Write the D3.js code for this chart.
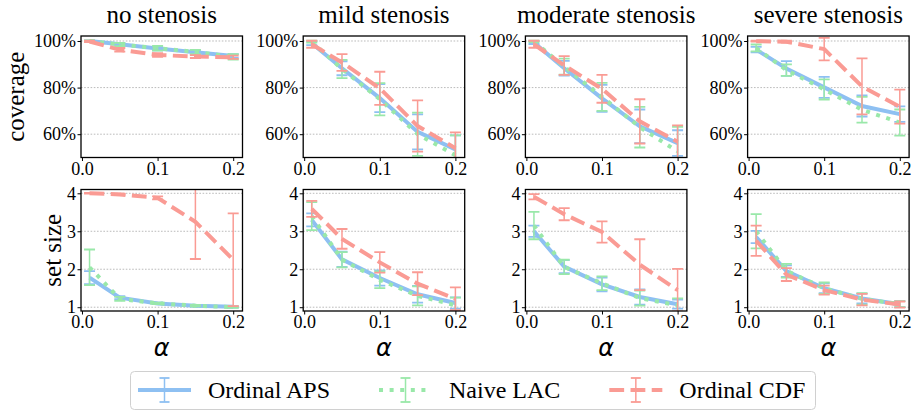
<!DOCTYPE html>
<html>
<head>
<meta charset="utf-8">
<script src="https://cdn.jsdelivr.net/npm/d3@7"></script>
<style>
  body { margin: 0; background: #fff; }
  svg text { font-family: "Liberation Serif", "Times New Roman", serif; fill: #000; }
</style>
</head>
<body>
<div id="chart"></div>
<script>
/**------------------------------------------------------------------------
 *                           DATA
 *------------------------------------------------------------------------**/
const alphas = [0.01, 0.05, 0.1, 0.15, 0.2]
const panels = ['no stenosis', 'mild stenosis', 'moderate stenosis', 'severe stenosis']
const methods = ['Ordinal APS', 'Naive LAC', 'Ordinal CDF']
const xTicks = [0.0, 0.1, 0.2]
const coverageTicks = [60, 80, 100]
const sizeTicks = [1, 2, 3, 4]

// coverage (%), one row per panel
const apsCoverage = [
    [100, 98.6, 96.8, 95.2, 93.6],
    [99, 88.3, 75.5, 61, 53.5],
    [99.3, 88.3, 75.4, 63.4, 56.2],
    [96.3, 88.2, 80.1, 72.1, 68.6]
]
const apsCoverageErr = [
    [0.3, 0.6, 0.8, 0.8, 0.8],
    [0.8, 3, 6, 7.5, 6],
    [0.6, 3.2, 5.8, 7.2, 5.5],
    [1.2, 3.2, 4.5, 4.5, 3.3]
]
const lacCoverage = [
    [100, 98.5, 96.9, 95.3, 93.2],
    [99.7, 88, 75, 60, 51],
    [99.8, 89, 76, 63, 52.6],
    [97, 87.5, 79.2, 70.5, 65]
]
const lacCoverageErr = [
    [0.2, 0.7, 1, 0.9, 1.2],
    [0.4, 3.9, 6.9, 9.3, 8.5],
    [0.3, 3.4, 6, 8.7, 10.5],
    [1.5, 2.5, 4.3, 5.5, 5.6]
]
const cdfCoverage = [
    [99.8, 96.2, 94, 93.3, 93],
    [98.6, 90.8, 79.7, 63.5, 54],
    [98.6, 89.5, 79.5, 65.5, 56.8],
    [99.9, 99.7, 96.5, 80.5, 71.8]
]
const cdfCoverageErr = [
    [0.3, 0.8, 0.8, 0.6, 0.7],
    [1.5, 3.6, 7.1, 11, 6.8],
    [1.5, 4, 6, 9.5, 7],
    [0.2, 0.4, 4.8, 12, 7.3]
]

// set size, one row per panel
const apsSize = [
    [1.78, 1.25, 1.1, 1.04, 1.01],
    [3.3, 2.26, 1.77, 1.34, 1.11],
    [3.0, 2.07, 1.6, 1.27, 1.08],
    [2.85, 1.95, 1.5, 1.23, 1.08]
]
const apsSizeErr = [
    [0.17, 0.04, 0.02, 0.02, 0.02],
    [0.17, 0.2, 0.2, 0.22, 0.15],
    [0.15, 0.17, 0.18, 0.2, 0.12],
    [0.16, 0.15, 0.13, 0.13, 0.08]
]
const lacSize = [
    [2.05, 1.22, 1.1, 1.04, 1.0],
    [3.4, 2.25, 1.72, 1.3, 1.05],
    [3.15, 2.06, 1.63, 1.24, 1.05],
    [3.0, 1.96, 1.5, 1.22, 1.08]
]
const lacSizeErr = [
    [0.47, 0.05, 0.02, 0.02, 0.02],
    [0.37, 0.2, 0.22, 0.25, 0.2],
    [0.36, 0.19, 0.18, 0.2, 0.18],
    [0.45, 0.18, 0.15, 0.15, 0.08]
]
const cdfSize = [
    [4.0, 3.97, 3.88, 3.25, 2.25],
    [3.59, 2.8, 2.18, 1.62, 1.22],
    [3.91, 3.45, 2.98, 2.12, 1.45],
    [2.75, 1.86, 1.45, 1.2, 1.07]
]
const cdfSizeErr = [
    [0.01, 0.02, 0.04, 0.98, 1.22],
    [0.21, 0.26, 0.27, 0.3, 0.3],
    [0.07, 0.16, 0.28, 0.67, 0.56],
    [0.4, 0.17, 0.12, 0.15, 0.08]
]

/**------------------------------------------------------------------------
 *                           STYLE / LAYOUT
 *------------------------------------------------------------------------**/
const colors = ['#8ec0f2', '#99e8a9', '#fa9b94']
const dashes = [null, '4,6.6', '14.8,6.4']
const lineWidth = 4

const width = 913, height = 412
const panel = { left: 81, step: 222.2, width: 161.5, height: 121.5 }
const rowTop = [36, 189.5]

const svg = d3.select('#chart')
    .append('svg')
    .attr('width', width)
    .attr('height', height)

const xScale = d3.scaleLinear().domain([-0.0013, 0.2123]).range([0, panel.width])

const rows = [
    {
        label: 'coverage', labelX: 24,
        domain: [50, 102.14], ticks: coverageTicks, fmt: d => d + '%',
        means: [apsCoverage, lacCoverage, cdfCoverage],
        errs: [apsCoverageErr, lacCoverageErr, cdfCoverageErr]
    },
    {
        label: 'set size', labelX: 61,
        domain: [0.9, 4.1], ticks: sizeTicks, fmt: d3.format('d'),
        means: [apsSize, lacSize, cdfSize],
        errs: [apsSizeErr, lacSizeErr, cdfSizeErr]
    }
]

/**------------------------------------------------------------------------
 *                           PANELS
 *------------------------------------------------------------------------**/
rows.forEach((row, r) => {
    const yScale = d3.scaleLinear().domain(row.domain).range([panel.height, 0])

    panels.forEach((name, p) => {
        const px = panel.left + p * panel.step
        const g = svg.append('g').attr('transform', 'translate(' + px + ',' + rowTop[r] + ')')
        const clipId = 'clip-' + r + '-' + p

        g.append('clipPath').attr('id', clipId)
            .append('rect')
            .attr('width', panel.width)
            .attr('height', panel.height)

        // horizontal grid
        g.append('g').selectAll('line')
            .data(row.ticks)
            .join('line')
            .attr('x1', 0).attr('x2', panel.width)
            .attr('y1', d => yScale(d)).attr('y2', d => yScale(d))
            .attr('stroke', '#aaaaaa')
            .attr('stroke-width', 0.8)
            .attr('stroke-dasharray', '1.6,1.6')

        // series: line + error bars
        const plot = g.append('g').attr('clip-path', 'url(#' + clipId + ')')
        methods.forEach((m, k) => {
            const means = row.means[k][p]
            const errs = row.errs[k][p]
            const pts = alphas.map((a, i) => ({ a: a, v: means[i], e: errs[i] }))

            const line = d3.line().x(d => xScale(d.a)).y(d => yScale(d.v))
            plot.append('path')
                .datum(pts)
                .attr('d', line)
                .attr('fill', 'none')
                .attr('stroke', colors[k])
                .attr('stroke-width', lineWidth)
                .attr('stroke-dasharray', dashes[k])

            const bars = plot.append('g')
                .attr('stroke', colors[k])
                .selectAll('g')
                .data(pts)
                .join('g')
            bars.append('line')
                .attr('x1', d => xScale(d.a)).attr('x2', d => xScale(d.a))
                .attr('y1', d => yScale(d.v - d.e)).attr('y2', d => yScale(d.v + d.e))
                .attr('stroke-width', 1.5)
            bars.selectAll('.cap')
                .data(d => [[d.a, d.v - d.e], [d.a, d.v + d.e]])
                .join('line')
                .attr('class', 'cap')
                .attr('x1', d => xScale(d[0]) - 5.5).attr('x2', d => xScale(d[0]) + 5.5)
                .attr('y1', d => yScale(d[1])).attr('y2', d => yScale(d[1]))
                .attr('stroke-width', 1.8)
        })

        // axes
        const xAxis = g.append('g')
            .attr('transform', 'translate(0,' + panel.height + ')')
            .call(d3.axisBottom(xScale).tickValues(xTicks).tickFormat(d3.format('.1f'))
                .tickSize(3.5).tickPadding(1))
        const yAxis = g.append('g')
            .call(d3.axisLeft(yScale).tickValues(row.ticks).tickFormat(row.fmt)
                .tickSize(3.5).tickPadding(1.5))
        ;[xAxis, yAxis].forEach(ax => {
            ax.attr('font-family', null).attr('font-size', 18)
            ax.select('.domain').remove()
            ax.selectAll('.tick line').attr('stroke', '#000').attr('stroke-width', 1)
        })

        // frame
        g.append('rect')
            .attr('width', panel.width)
            .attr('height', panel.height)
            .attr('fill', 'none')
            .attr('stroke', '#000')
            .attr('stroke-width', 1.3)

        if (r == 0) {
            g.append('text')
                .attr('x', panel.width / 2)
                .attr('y', 23 - rowTop[0])
                .attr('text-anchor', 'middle')
                .attr('font-size', 25)
                .text(name)
        } else {
            // alpha label
            g.append('text')
                .attr('x', panel.width / 2)
                .attr('y', 356 - rowTop[1])
                .attr('text-anchor', 'middle')
                .attr('font-size', 24)
                .style('font-family', '"DejaVu Sans", sans-serif')
                .style('font-style', 'italic')
                .text('α')
        }
    })

    // row label
    svg.append('text')
        .attr('transform', 'translate(' + row.labelX + ',' + (rowTop[r] + panel.height / 2) + ') rotate(-90)')
        .attr('text-anchor', 'middle')
        .attr('font-size', 25)
        .text(row.label)
})

/**------------------------------------------------------------------------
 *                           LEGEND
 *------------------------------------------------------------------------**/
const legend = svg.append('g')
legend.append('rect')
    .attr('x', 130.5).attr('y', 371.5)
    .attr('width', 685).attr('height', 38)
    .attr('rx', 4)
    .attr('fill', '#fff')
    .attr('stroke', '#d0d0d0')
    .attr('stroke-width', 1)

let lx = 138
const ly = 390
methods.forEach((m, k) => {
    const item = legend.append('g')
    item.append('line')
        .attr('x1', lx).attr('x2', lx + 53)
        .attr('y1', ly).attr('y2', ly)
        .attr('stroke', colors[k])
        .attr('stroke-width', lineWidth)
        .attr('stroke-dasharray', dashes[k])
    const cx = lx + 26.5
    item.append('line')
        .attr('x1', cx).attr('x2', cx)
        .attr('y1', ly - 12).attr('y2', ly + 12)
        .attr('stroke', colors[k]).attr('stroke-width', 1.5)
    ;[-12, 12].forEach(o => {
        item.append('line')
            .attr('x1', cx - 5).attr('x2', cx + 5)
            .attr('y1', ly + o).attr('y2', ly + o)
            .attr('stroke', colors[k]).attr('stroke-width', 1.8)
    })
    const t = item.append('text')
        .attr('x', lx + 70)
        .attr('y', 398)
        .attr('font-size', 24)
        .text(m)
    lx = lx + 70 + t.node().getComputedTextLength() + 49
})
</script>
</body>
</html>
